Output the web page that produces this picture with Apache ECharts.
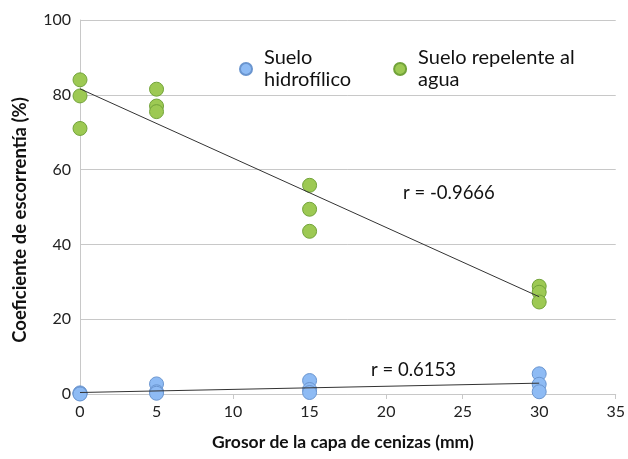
<!DOCTYPE html>
<html>
<head>
<meta charset="utf-8">
<script src="https://cdn.jsdelivr.net/npm/echarts@6/dist/echarts.min.js"></script>
<style>
  html, body { margin: 0; padding: 0; background: #fff; }
  #chart { width: 628px; height: 459px; }
</style>
</head>
<body>
<div id="chart"></div>
<script>
// valores
var hidrofilico = [[0, 0.3], [0, 0.1], [0, 0], [5, 2.7], [5, 0.6], [5, 0.2], [15, 3.6], [15, 1.2], [15, 0.4], [30, 5.4], [30, 2.6], [30, 0.6]]
var repelente = [[0, 84], [0, 79.7], [0, 71], [5, 81.5], [5, 77], [5, 75.5], [15, 55.8], [15, 49.4], [15, 43.5], [30, 28.8], [30, 27.2], [30, 24.6]]
var tendHidro = [[0, 0.4], [30, 2.9]]
var tendRepel = [[0, 81.6], [30, 26]]
var xTicks = [0, 5, 10, 15, 20, 25, 30, 35]
var yTicks = [0, 20, 40, 60, 80, 100]

var font = 'Lato'
var chart = echarts.init(document.getElementById('chart'))

chart.setOption({
  animation: false,
  textStyle: { fontFamily: font },
  grid: { left: 80, right: 12, top: 20, bottom: 65 },
  legend: {
    data: ['Suelo hidrofílico', 'Suelo repelente al agua'],
    left: 234, top: 42,
    itemGap: 42,
    icon: 'circle', itemWidth: 26, itemHeight: 12,
    formatter: function (n) {
      return n == 'Suelo hidrofílico' ? 'Suelo\nhidrofílico' : 'Suelo repelente al\nagua'
    },
    textStyle: { fontFamily: font, fontSize: 20, color: '#111', lineHeight: 22 }
  },
  xAxis: {
    type: 'value', min: xTicks[0], max: xTicks[xTicks.length - 1], interval: 5,
    name: 'Grosor de la capa de cenizas (mm)', nameLocation: 'middle', nameGap: 39,
    nameTextStyle: { fontFamily: font, fontSize: 17.5, fontWeight: 'bold', color: '#111', padding: [0, 10, 0, 0] },
    axisLine: { lineStyle: { color: '#c8c8c8' } },
    axisTick: { show: true, length: 5, lineStyle: { color: '#c8c8c8' } },
    axisLabel: { fontSize: 16, color: '#222', margin: 10 },
    splitLine: { show: false }
  },
  yAxis: {
    type: 'value', min: yTicks[0], max: yTicks[yTicks.length - 1], interval: 20,
    name: 'Coeficiente de escorrentía (%)', nameLocation: 'middle', nameGap: 50,
    nameTextStyle: { fontFamily: font, fontSize: 18.5, fontWeight: 'bold', color: '#111', padding: [0, 26, 0, 0] },
    axisLine: { show: true, lineStyle: { color: '#c8c8c8' } },
    axisTick: { show: false },
    axisLabel: { fontSize: 16, color: '#222', margin: 9 },
    splitLine: { lineStyle: { color: '#c8c8c8' } }
  },
  series: [
    {
      name: 'Suelo hidrofílico', type: 'scatter', data: hidrofilico, symbolSize: 14,
      itemStyle: { color: '#8ebbf4', borderColor: '#6a95cf', borderWidth: 1, opacity: 1 }
    },
    {
      name: 'Suelo repelente al agua', type: 'scatter', data: repelente, symbolSize: 14,
      itemStyle: { color: '#9dc953', borderColor: '#72a33a', borderWidth: 1, opacity: 1 }
    },
    {
      type: 'line', data: tendRepel, symbol: 'none', z: 5, silent: true,
      lineStyle: { color: '#333', width: 1 }
    },
    {
      type: 'line', data: tendHidro, symbol: 'none', z: 5, silent: true,
      lineStyle: { color: '#333', width: 1 }
    }
  ],
  graphic: [
    { type: 'text', left: 403, top: 184, style: { text: 'r = -0.9666', font: '18.5px Lato', fill: '#111' } },
    { type: 'text', left: 371, top: 361, style: { text: 'r = 0.6153', font: '18.5px Lato', fill: '#111' } }
  ]
})
</script>
</body>
</html>
